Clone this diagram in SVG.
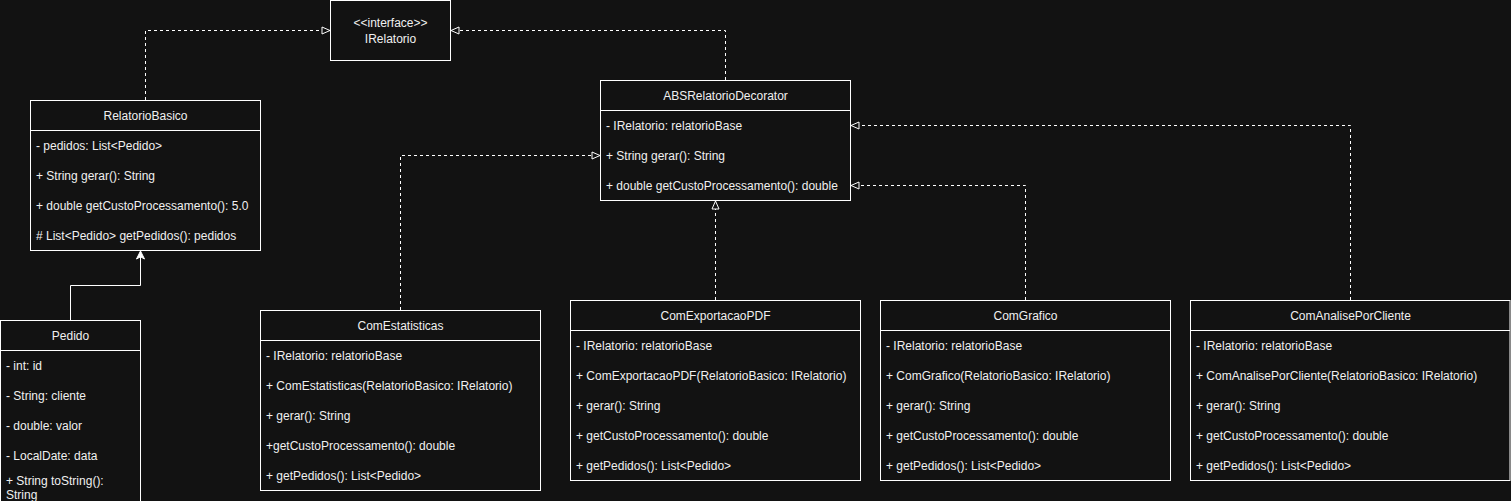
<svg xmlns="http://www.w3.org/2000/svg" width="1511" height="501" viewBox="0 0 1511 501">
<style>
.box{fill:#121212;stroke:#ffffff;stroke-width:1}
.sep{stroke:#ffffff;stroke-width:1}
text{font-family:"Liberation Sans",Arial,Helvetica,sans-serif;font-size:12px;fill:#f0f0f0}
.t{text-anchor:middle}
.dash{fill:none;stroke:#ffffff;stroke-width:1;stroke-dasharray:3 3}
.solid{fill:none;stroke:#ffffff;stroke-width:1}
</style>
<defs>
<marker id="tri" markerUnits="userSpaceOnUse" markerWidth="12" markerHeight="12" viewBox="-1 -1 12 12" refX="8" refY="3.5" orient="auto">
<path d="M0,0 L8,3.5 L0,7 Z" fill="#121212" stroke="#ffffff" stroke-width="1"/>
</marker>
<marker id="classic" markerUnits="userSpaceOnUse" markerWidth="12" markerHeight="12" viewBox="-1 -1 12 12" refX="8" refY="4" orient="auto">
<path d="M0,0 L8,4 L0,8 L2.2,4 Z" fill="#ffffff" stroke="#ffffff" stroke-width="1"/>
</marker>
</defs>
<rect x="0" y="0" width="1511" height="501" fill="#121212"/>

<g id="connectors">
<path class="dash" d="M145.5,100 L145.5,30.5 L330,30.5" marker-end="url(#tri)"/>
<path class="dash" d="M725.5,80 L725.5,30.5 L451,30.5" marker-end="url(#tri)"/>
<path class="dash" d="M400.5,310 L400.5,155.5 L600,155.5" marker-end="url(#tri)"/>
<path class="dash" d="M715.5,300 L715.5,201" marker-end="url(#tri)"/>
<path class="dash" d="M1025.5,300 L1025.5,185.5 L851,185.5" marker-end="url(#tri)"/>
<path class="dash" d="M1350.5,300 L1350.5,125.5 L851,125.5" marker-end="url(#tri)"/>
<path class="solid" d="M70.5,320 L70.5,285.5 L140.5,285.5 L140.5,251" marker-end="url(#classic)"/>
</g>

<g id="IRelatorio">
<rect class="box" x="330.5" y="0.5" width="120" height="60"/>
<text class="t" x="390.5" y="27">&lt;&lt;interface&gt;&gt;</text>
<text class="t" x="390.5" y="43">IRelatorio</text>
</g>

<g id="RelatorioBasico">
<rect class="box" x="30.5" y="100.5" width="230" height="150"/>
<line class="sep" x1="30.5" y1="130.5" x2="260.5" y2="130.5"/>
<text class="t" x="145.5" y="120">RelatorioBasico</text>
<text x="36" y="150">- pedidos: List&lt;Pedido&gt;</text>
<text x="36" y="180">+ String gerar(): String</text>
<text x="36" y="210">+ double getCustoProcessamento(): 5.0</text>
<text x="36" y="240"># List&lt;Pedido&gt; getPedidos(): pedidos</text>
</g>

<g id="Pedido">
<rect class="box" x="0.5" y="320.5" width="140" height="190"/>
<line class="sep" x1="0.5" y1="350.5" x2="140.5" y2="350.5"/>
<text class="t" x="70.5" y="340">Pedido</text>
<text x="6" y="370">- int: id</text>
<text x="6" y="400">- String: cliente</text>
<text x="6" y="430">- double: valor</text>
<text x="6" y="460">- LocalDate: data</text>
<text x="6" y="485">+ String toString():</text>
<text x="6" y="499">String</text>
</g>

<g id="ABSRelatorioDecorator">
<rect class="box" x="600.5" y="80.5" width="250" height="120"/>
<line class="sep" x1="600.5" y1="110.5" x2="850.5" y2="110.5"/>
<text class="t" x="725.5" y="100">ABSRelatorioDecorator</text>
<text x="606" y="130">- IRelatorio: relatorioBase</text>
<text x="606" y="160">+ String gerar(): String</text>
<text x="606" y="190">+ double getCustoProcessamento(): double</text>
</g>

<g id="ComEstatisticas">
<rect class="box" x="260.5" y="310.5" width="280" height="180"/>
<line class="sep" x1="260.5" y1="340.5" x2="540.5" y2="340.5"/>
<text class="t" x="400.5" y="330">ComEstatisticas</text>
<text x="266" y="360">- IRelatorio: relatorioBase</text>
<text x="266" y="390">+ ComEstatisticas(RelatorioBasico: IRelatorio)</text>
<text x="266" y="420">+ gerar(): String</text>
<text x="266" y="450">+getCustoProcessamento(): double</text>
<text x="266" y="480">+ getPedidos(): List&lt;Pedido&gt;</text>
</g>

<g id="ComExportacaoPDF">
<rect class="box" x="570.5" y="300.5" width="290" height="180"/>
<line class="sep" x1="570.5" y1="330.5" x2="860.5" y2="330.5"/>
<text class="t" x="715.5" y="320">ComExportacaoPDF</text>
<text x="576" y="350">- IRelatorio: relatorioBase</text>
<text x="576" y="380">+ ComExportacaoPDF(RelatorioBasico: IRelatorio)</text>
<text x="576" y="410">+ gerar(): String</text>
<text x="576" y="440">+ getCustoProcessamento(): double</text>
<text x="576" y="470">+ getPedidos(): List&lt;Pedido&gt;</text>
</g>

<g id="ComGrafico">
<rect class="box" x="880.5" y="300.5" width="290" height="180"/>
<line class="sep" x1="880.5" y1="330.5" x2="1170.5" y2="330.5"/>
<text class="t" x="1025.5" y="320">ComGrafico</text>
<text x="886" y="350">- IRelatorio: relatorioBase</text>
<text x="886" y="380">+ ComGrafico(RelatorioBasico: IRelatorio)</text>
<text x="886" y="410">+ gerar(): String</text>
<text x="886" y="440">+ getCustoProcessamento(): double</text>
<text x="886" y="470">+ getPedidos(): List&lt;Pedido&gt;</text>
</g>

<g id="ComAnalisePorCliente">
<rect class="box" x="1190.5" y="300.5" width="319.5" height="180"/>
<line class="sep" x1="1190.5" y1="330.5" x2="1510" y2="330.5"/>
<text class="t" x="1350.5" y="320">ComAnalisePorCliente</text>
<text x="1196" y="350">- IRelatorio: relatorioBase</text>
<text x="1196" y="380">+ ComAnalisePorCliente(RelatorioBasico: IRelatorio)</text>
<text x="1196" y="410">+ gerar(): String</text>
<text x="1196" y="440">+ getCustoProcessamento(): double</text>
<text x="1196" y="470">+ getPedidos(): List&lt;Pedido&gt;</text>
</g>
</svg>
